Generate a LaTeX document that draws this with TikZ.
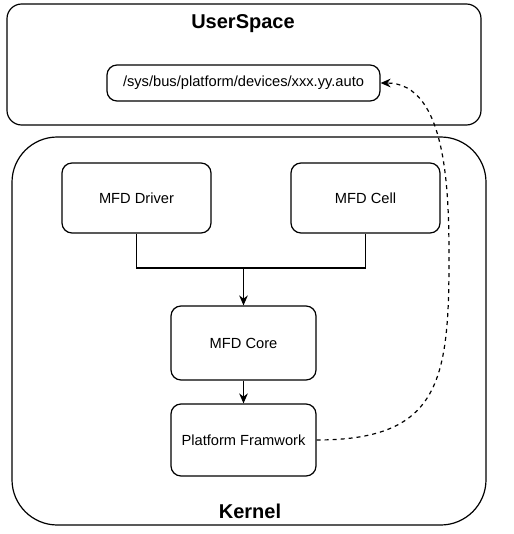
\documentclass[tikz,border=0pt]{standalone}
\usepackage{fontspec}
\setmainfont{Liberation Sans}
\usetikzlibrary{arrows.meta}
\begin{document}
\begin{tikzpicture}[x=0.75pt, y=-0.75pt, line width=0.9pt,
  area/.style={draw, inner sep=0pt, minimum width=355.5pt},
  title/.style={font=\fontsize{15}{17}\selectfont\bfseries},
  box/.style={draw, rounded corners=7.5pt, inner sep=0pt, font=\fontsize{11}{13}\selectfont},
  tip/.style={-{Stealth[length=7.5pt, width=6.5pt]}}]
\useasboundingbox (0,0) rectangle (513,534);
% containers
\node[area, rounded corners=11pt, minimum height=90.75pt] (user) at (244,64.5) {};
\node[area, rounded corners=34pt, minimum height=291pt] (kernel) at (249,331) {};
\node[title] (usertitle) at (243,24) {UserSpace};
\node[title] (kerneltitle) at (250,511) {Kernel};
% boxes
\node[box, minimum width=204.75pt, minimum height=27pt] (sysfs) at (243.5,83) {/sys/bus/platform/devices/xxx.yy.auto};
\node[box, minimum width=111.75pt, minimum height=52.5pt] (driver) at (136.5,198) {MFD Driver};
\node[box, minimum width=111.75pt, minimum height=52.5pt] (cell) at (365.5,198) {MFD Cell};
\node[box, minimum width=108.75pt, minimum height=55.5pt] (core) at (243.5,343) {MFD Core};
\node[box, minimum width=108.75pt, minimum height=54pt] (platform) at (243.5,440) {Platform Framwork};
% connectors
\coordinate (join) at (243.5,268);
\coordinate (bend) at (449,260);
\draw (driver.south) |- (join) -| (cell.south);
\draw[tip] (join) -- (core.north);
\draw[tip] (core.south) -- (platform.north);
\draw[tip, dash pattern=on 3pt off 3pt] (platform.east) to[out=0, in=-90, looseness=1.4] (bend) to[out=90, in=0, looseness=0.9] (sysfs.east);
\end{tikzpicture}
\end{document}
